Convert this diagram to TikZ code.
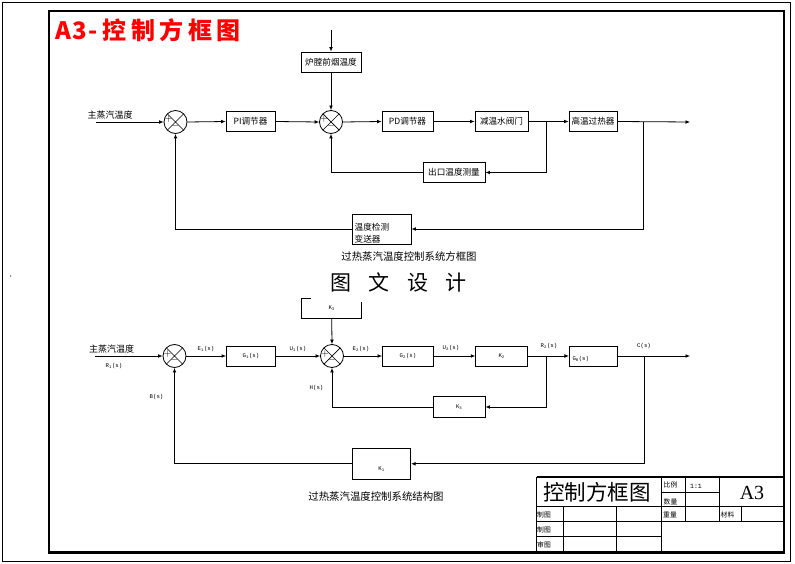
\documentclass[tikz,border=0pt]{standalone}
\usepackage{fontspec}
\setmainfont{Liberation Serif}
\newfontfamily\cjk{Noto Sans CJK SC}
\newfontfamily\lbl{Liberation Mono}
\usetikzlibrary{arrows.meta}
\tikzset{
 ln/.style={line width=0.8pt},
 arr/.style={ln,-{Latex[length=4.5pt,width=3.8pt]}},
 blk/.style={draw,ln,inner sep=0pt,minimum height=19.5pt,font=\cjk\fontsize{8.6}{10}\selectfont},
 kblk/.style={draw,ln,inner sep=0pt,minimum height=20pt,font=\lbl\fontsize{5.7}{6}\selectfont},
 sumnode/.style={circle,draw,ln,minimum size=23pt,inner sep=0pt,
   path picture={\draw[line width=0.7pt] (path picture bounding box.north west)--(path picture bounding box.south east)
     (path picture bounding box.north east)--(path picture bounding box.south west);}},
 pm/.style={inner sep=0pt,font=\fontsize{10}{10}\selectfont},
 cn/.style={inner sep=0pt,font=\cjk\fontsize{9}{10}\selectfont},
 sig/.style={inner sep=0pt,font=\lbl\fontsize{5.7}{6}\selectfont},
 tbt/.style={inner sep=0pt,font=\cjk\fontsize{6.8}{7}\selectfont},
}
\begin{document}
\begin{tikzpicture}[x=1pt,y=-1pt]
\useasboundingbox (0,0) rectangle (795,564);
% frames
\draw[line width=0.8pt] (2.5,2.5) rectangle (790.5,561.5);
\draw[line width=2.2pt] (49.3,11) rectangle (784,552.5);
\fill (10.7,276) circle (0.6pt);
\node[inner sep=0pt,anchor=west,text=red,font=\cjk\bfseries\fontsize{24}{26}\selectfont] (title) at (55,30)
  {A\hspace{1.5pt}3\hspace{1.5pt}-\hspace{5pt}控\hspace{4.5pt}制\hspace{4.5pt}方\hspace{4.5pt}框\hspace{4.5pt}图};

% ---------------- top diagram ----------------
\coordinate (tin) at (96,122);
\node[cn] (tinl) at (110,115) {主蒸汽温度};
\node[sumnode] (ts1) at (175.5,122) {};
\node[pm] (ts1p) at (168.5,122) {\smash{$+$}};
\node[pm] (ts1m) at (175.5,128.5) {\smash{$-$}};
\node[blk,minimum width=49pt] (tpi) at (250.5,121.5) {PI调节器};
\node[sumnode] (ts2) at (331,122) {};
\node[pm] (ts2p) at (324,122) {\smash{$+$}};
\node[pm] (ts2m) at (331,128.5) {\smash{$-$}};
\coordinate (ttop) at (331,30);
\node[blk,minimum width=60pt,minimum height=20pt] (tyan) at (331,62) {炉膛前烟温度};
\node[blk,minimum width=51pt] (tpd) at (407.5,121.5) {PD调节器};
\node[blk,minimum width=53pt] (tvalve) at (501.5,121.5) {减温水阀门};
\node[blk,minimum width=48pt] (tsh) at (593,121.5) {高温过热器};
\coordinate (tout) at (690,122);
\coordinate (tb1) at (546.7,122);
\coordinate (tb2) at (643.3,122);
\node[blk,minimum width=62pt,minimum height=20pt] (tmeas) at (454,172.5) {出口温度测量};
\node[draw,ln,inner sep=0pt,minimum width=59pt,minimum height=30pt] (tdet) at (381.5,229) {};
\node[anchor=west,inner sep=0pt,align=left,font=\cjk\fontsize{8.6}{11.5}\selectfont] (tdett) at (354.5,233) {温度检测\\变送器};
\node[cn,font=\cjk\fontsize{10.4}{11}\selectfont] (tcap) at (409,257) {过热蒸汽温度控制系统方框图};

\draw[arr] (ttop) -- (tyan.north);
\draw[arr] (tyan.south) -- (ts2.north);
\draw[arr] (tin) -- (ts1.west);
\draw[arr] (ts1.east) -- (tpi.west);
\draw[arr] (tpi.east) -- (ts2.west);
\draw[arr] (ts2.east) -- (tpd.west);
\draw[arr] (tpd.east) -- (tvalve.west);
\draw[arr] (tvalve.east) -- (tsh.west);
\draw[arr] (tsh.east) -- (tout);
\draw[arr] (tb1) |- (tmeas.east);
\draw[arr] (tmeas.west) -| (ts2.south);
\draw[arr] (tb2) |- (tdet.east);
\draw[arr] (tdet.west) -| (ts1.south);

% ---------------- bottom diagram ----------------
\coordinate (bin) at (95,356);
\node[cn] (binl) at (111.5,349) {主蒸汽温度};
\node[sig] (br1) at (114,366) {R\textsubscript{1}(s)};
\node[sumnode] (bs1) at (174.5,356) {};
\node[pm] (bs1p) at (167.5,356) {\smash{$+$}};
\node[pm] (bs1m) at (174.5,362.5) {\smash{$-$}};
\node[sig] (be1) at (206,349) {E\textsubscript{1}(s)};
\node[kblk,minimum width=49pt] (bg1) at (251,356) {G\textsubscript{1}(s)\hspace{8pt}};
\node[sig] (bu1) at (298,349) {U\textsubscript{1}(s)};
\node[kblk,minimum width=60pt] (bk4) at (331.7,308) {K\textsubscript{3}};
\node[sumnode] (bs2) at (332,356) {};
\node[pm] (bs2p) at (325,356) {\smash{$+$}};
\node[pm] (bs2m) at (332,362.5) {\smash{$-$}};
\node[sig] (be2) at (361,349) {E\textsubscript{2}(s)};
\node[kblk,minimum width=51pt] (bg2) at (408,356) {G\textsubscript{2}(s)};
\node[sig] (bu2) at (451,348.5) {U\textsubscript{2}(s)};
\node[kblk,minimum width=52pt] (bk2) at (501.7,356) {K\textsubscript{2}};
\node[sig] (br2) at (549,346) {R\textsubscript{2}(s)};
\coordinate (bb1) at (546.7,356);
\node[kblk,minimum width=48.4pt,text width=42pt,align=left,inner xsep=3.2pt] (bg0) at (593.5,356) {\raisebox{-4pt}[0pt][0pt]{G\textsubscript{0}(s)}};
\node[sig] (bc) at (644,346) {C(s)};
\coordinate (bb2) at (644,356);
\coordinate (bout) at (690,356);
\node[kblk,minimum width=51.7pt,minimum height=20.6pt] (bk3) at (459.2,407) {K\textsubscript{3}};
\node[sig] (bh) at (316.5,388) {H(s)};
\node[kblk,minimum width=58.4pt,minimum height=31pt] (bk1) at (381.5,463.8) {\raisebox{-7pt}[0pt][0pt]{K\textsubscript{1}}};
\node[sig] (bbs) at (156.5,397) {B(s)};
\node[cn,font=\cjk\fontsize{10.4}{11}\selectfont] (bcap) at (376,497) {过热蒸汽温度控制系统结构图};

\draw[arr] (bin) -- (bs1.west);
\draw[arr] (bs1.east) -- (bg1.west);
\draw[arr] (bg1.east) -- (bs2.west);
\draw[arr] (bk4.south) -- (bs2.north);
\draw[arr] (bs2.east) -- (bg2.west);
\draw[arr] (bg2.east) -- (bk2.west);
\draw[arr] (bk2.east) -- (bg0.west);
\draw[arr] (bg0.east) -- (bout);
\draw[arr] (bb1) |- (bk3.east);
\draw[arr] (bk3.west) -| (bs2.south);
\draw[arr] (bb2) |- (bk1.east);
\draw[arr] (bk1.west) -| (bs1.south);

% watermark
\fill[white] (311,263) rectangle (478,301.5);
\node[inner sep=0pt,font=\cjk\fontsize{21}{22}\selectfont] (wm) at (398.5,282)
  {图\hspace{17.5pt}文\hspace{17.5pt}设\hspace{17.5pt}计};

% ---------------- title block ----------------
\draw[line width=1.8pt] (536.5,476.7) -- (784,476.7);
\draw[line width=1.8pt] (536.5,476.7) -- (536.5,552.5);
\draw[ln] (536.5,506.7) -- (784,506.7);
\draw[ln] (536.5,521.7) -- (784,521.7);
\draw[ln] (536.5,536.7) -- (661.7,536.7);
\draw[ln] (661.7,476.7) -- (661.7,552.5);
\draw[ln] (563.3,506.7) -- (563.3,552.5);
\draw[ln] (616,506.7) -- (616,552.5);
\draw[ln] (685.7,476.7) -- (685.7,521.7);
\draw[ln] (719,476.7) -- (719,521.7);
\draw[ln] (741.7,506.7) -- (741.7,521.7);
\draw[ln] (661.7,492.3) -- (719,492.3);
\node[inner sep=0pt,font=\cjk\fontsize{21.5}{22}\selectfont] (tbname) at (597,492) {控制方框图};
\node[tbt] (tb11) at (670.5,485) {比例};
\node[sig,font=\lbl\fontsize{6.5}{7}\selectfont] (tb12) at (696,486) {1:1};
\node[tbt] (tb13) at (670.5,501.5) {数量};
\node[inner sep=0pt,font=\fontsize{20}{22}\selectfont] (tb14) at (752,493) {A3};
\node[tbt] (tb21) at (544,514.5) {制图};
\node[tbt] (tb31) at (544,529.5) {制图};
\node[tbt] (tb41) at (544,544.5) {审图};
\node[tbt] (tb22) at (670,514.5) {重量};
\node[tbt] (tb23) at (727.5,514.5) {材料};
\end{tikzpicture}
\end{document}
